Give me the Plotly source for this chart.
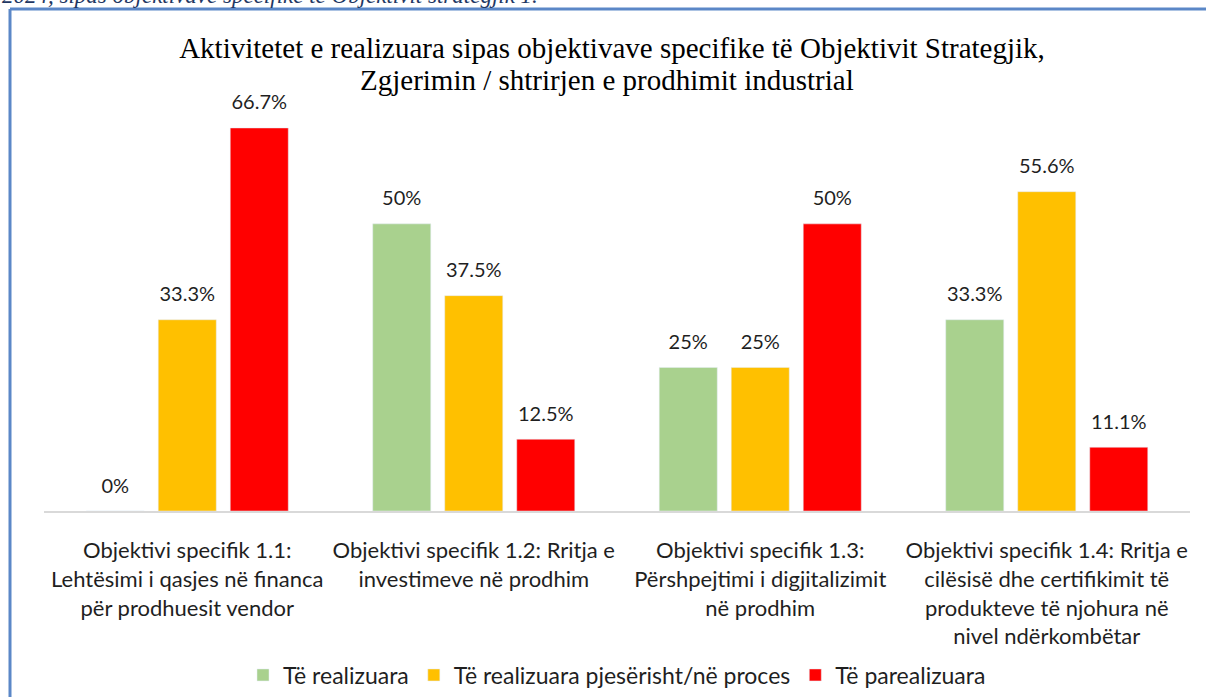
import plotly.graph_objects as go

categories = [
    "Objektivi specifik 1.1:<br>Lehtësimi i qasjes në financa<br>për prodhuesit vendor",
    "Objektivi specifik 1.2: Rritja e<br>investimeve në prodhim",
    "Objektivi specifik 1.3:<br>Përshpejtimi i digjitalizimit<br>në prodhim",
    "Objektivi specifik 1.4: Rritja e<br>cilësisë dhe certifikimit të<br>produkteve të njohura në<br>nivel ndërkombëtar",
]
series_names = ["Të realizuara", "Të realizuara pjesërisht/në proces", "Të parealizuara"]
realizuara = [0, 50, 25, 33.3]
ne_proces = [33.3, 37.5, 25, 55.6]
parealizuara = [66.7, 12.5, 50, 11.1]
label_realizuara = ["0%", "50%", "25%", "33.3%"]
label_proces = ["33.3%", "37.5%", "25%", "55.6%"]
label_pareal = ["66.7%", "12.5%", "50%", "11.1%"]
colors = ["#A9D18E", "#FFC000", "#FF0000"]

W, H = 1206, 697
LABEL_FONT = "Lato, Carlito, Calibri, sans-serif"
SERIF = "Liberation Serif, Times New Roman, serif"
TEXT_COLOR = "#1F1F1F"
BARGAP = 0.246

fig = go.Figure()
for i, (name, vals, col) in enumerate(zip(series_names,
                                    [realizuara, ne_proces, parealizuara],
                                    colors)):
    fig.add_trace(go.Bar(
        x=categories, y=vals, name=name, marker_color=col,
        offsetgroup=str(i), hoverinfo="skip",
    ))
for i, (vals, labels) in enumerate(zip([realizuara, ne_proces, parealizuara],
                                       [label_realizuara, label_proces, label_pareal])):
    fig.add_trace(go.Scatter(
        x=categories, y=vals, mode="markers+text", text=labels,
        textposition="top center", offsetgroup=str(i), showlegend=False,
        marker=dict(size=20, opacity=0), cliponaxis=False, hoverinfo="skip",
        textfont=dict(family=LABEL_FONT, size=20, color=TEXT_COLOR),
    ))

def px_x(x):
    return x / W

def px_y(y):
    return 1 - y / H

fig.update_layout(
    width=W, height=H,
    margin=dict(l=0, r=0, t=0, b=0),
    paper_bgcolor="white", plot_bgcolor="white",
    barmode="group", bargap=BARGAP, bargroupgap=0.194,
    scattermode="group", scattergap=BARGAP,
    showlegend=True,
    legend=dict(orientation="h", x=px_x(617), xanchor="center", y=px_y(675), yanchor="middle",
                font=dict(family=LABEL_FONT, size=23, color=TEXT_COLOR),
                traceorder="normal", itemwidth=30),
    xaxis=dict(domain=[px_x(44), px_x(1190)], showline=True, linecolor="#D9D9D9", linewidth=2,
               ticks="", showgrid=False, ticklabelstandoff=19,
               tickfont=dict(family=LABEL_FONT, size=22, color=TEXT_COLOR),
               fixedrange=True),
    yaxis=dict(domain=[px_y(511), px_y(109)], range=[0, 70], visible=False, fixedrange=True),
    title=dict(text="Aktivitetet e realizuara sipas objektivave specifike të Objektivit Strategjik,",
               x=px_x(612), xanchor="center", y=px_y(48), yanchor="middle",
               font=dict(family=SERIF, size=29, color="#000000")),
    shapes=[
        dict(type="line", xref="paper", yref="paper", x0=px_x(10), x1=1.01, y0=px_y(9), y1=px_y(9),
             line=dict(color="#5B87C7", width=3)),
        dict(type="line", xref="paper", yref="paper", x0=px_x(10), x1=px_x(10), y0=px_y(9), y1=-0.01,
             line=dict(color="#5B87C7", width=3)),
    ],
    annotations=[
        dict(text="Zgjerimin / shtrirjen e prodhimit industrial",
             xref="paper", yref="paper", x=px_x(607), xanchor="center", y=px_y(80), yanchor="middle",
             showarrow=False, font=dict(family=SERIF, size=29, color="#000000")),
        dict(text="<i>2024, sipas objektivave specifike të Objektivit strategjik 1.</i>",
             xref="paper", yref="paper", x=0, xanchor="left", y=px_y(-5), yanchor="middle",
             showarrow=False, font=dict(family=SERIF, size=23, color="#1F3864")),
    ],
)

fig.write_html("out.html", config={"displayModeBar": False},
               post_script="document.body.style.margin='0';document.body.style.overflow='hidden';")
